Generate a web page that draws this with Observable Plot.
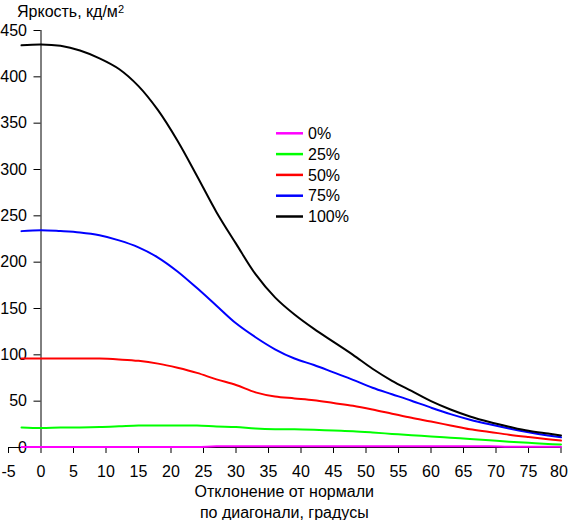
<!DOCTYPE html>
<html>
<head>
<meta charset="utf-8">
<script src="https://cdn.jsdelivr.net/npm/d3@7"></script>
<script src="https://cdn.jsdelivr.net/npm/@observablehq/plot@0.6"></script>
<style>
  body { margin: 0; background: #fff; }
  svg { display: block; }
</style>
</head>
<body>
<div id="chart"></div>
<script>
// ---- data ----
const angles = [-3, 0, 3, 6, 9, 12, 15, 18, 21, 24, 27, 30, 33, 36, 39, 42, 45, 48, 51, 54, 57, 60, 63, 66, 69, 72, 75, 78, 80];
const s0   = [0.5, 0.5, 0.5, 0.5, 0.5, 0.5, 0.5, 0.5, 0.5, 0.5, 1.3, 1.3, 1.3, 1.3, 1.3, 1.3, 1.3, 1.3, 1.3, 1.3, 1.3, 1.3, 1.3, 1.3, 1.3, 0.8, 0.8, 0.8, 0.8];
const s25  = [21.6, 21, 21.5, 21.6, 22, 22.8, 23.7, 23.7, 23.7, 23.7, 22.7, 22, 20.5, 19.8, 19.8, 19.2, 18.3, 17.5, 16.2, 14.7, 13.3, 12, 10.6, 9.2, 7.8, 6.3, 5, 3.9, 3.2];
const s50  = [96, 96, 96, 96, 96, 95, 93.5, 90.5, 86, 80.5, 73.5, 67.5, 59.5, 55, 53, 51, 48, 45, 41, 36.5, 32, 28, 23.8, 19.6, 16.8, 13.8, 11.3, 9, 7.5];
const s75  = [233.5, 234.5, 233.5, 232, 229, 223.5, 216, 205, 190, 172, 153, 134, 119, 106, 96, 89, 81, 73, 64.5, 57.5, 50.5, 43, 36, 30, 25, 20.5, 16.5, 13, 11];
const s100 = [434, 435, 433.5, 428.5, 420, 408.5, 390, 364, 331, 293, 254, 220, 187, 162, 143.5, 128, 114, 100, 85, 72, 61, 50, 41, 33.5, 27.5, 22.5, 18, 15, 13];
const seriesNames  = ["0%", "25%", "50%", "75%", "100%"];
const seriesValues = [s0, s25, s50, s75, s100];
const seriesColors = ["#ff00ff", "#00ff00", "#ff0000", "#0000ff", "#000000"];
const xTicks = [-5, 0, 5, 10, 15, 20, 25, 30, 35, 40, 45, 50, 55, 60, 65, 70, 75, 80];
const yTicks = [0, 50, 100, 150, 200, 250, 300, 350, 400, 450];
const titleText = "Яркость, кд/м";
const titleSup = "2";
const xLabelLines = ["Отклонение от нормали", "по диагонали, градусы"];

// ---- layout ----
const W = 568, H = 520;
const mL = 8, mR = 7.5, mT = 30, mB = 73;
const xDomain = [-5, 80], yDomain = [0, 450];
const fontFamily = "'Liberation Sans', Arial, sans-serif";

const rows = [];
seriesValues.forEach((vals, i) =>
  vals.forEach((v, j) => rows.push({angle: angles[j], value: v, series: seriesNames[i]}))
);

const yAxisDx = (0 - xDomain[0]) / (xDomain[1] - xDomain[0]) * (W - mL - mR);

const plot = Plot.plot({
  width: W,
  height: H,
  marginLeft: mL,
  marginRight: mR,
  marginTop: mT,
  marginBottom: mB,
  style: {fontFamily, fontSize: "16px", background: "#fff", color: "#000"},
  x: {domain: xDomain},
  y: {domain: yDomain},
  color: {domain: seriesNames, range: seriesColors},
  marks: [
    Plot.ruleX([0], {stroke: "#000", strokeWidth: 1}),
    Plot.ruleY([0], {stroke: "#000", strokeWidth: 1}),
    Plot.axisY(yTicks, {anchor: "left", dx: yAxisDx, tickSize: 7, tickPadding: 7, label: null, tickFormat: d => String(d), stroke: "#000", fill: "#000"}),
    Plot.axisX(xTicks, {anchor: "bottom", tickSize: 6, tickPadding: 12, label: null, tickFormat: d => String(d), stroke: "#000", fill: "#000"}),
    Plot.line(rows, {x: "angle", y: "value", z: "series", stroke: "series", strokeWidth: 2, curve: "catmull-rom"})
  ]
});

const svg = d3.select(plot);

// keep the last x tick label inside the picture
const xLabels = svg.selectAll("g[aria-label='x-axis tick label'] text");
if (xLabels.size()) d3.select(xLabels.nodes()[xLabels.size() - 1]).attr("dx", -2);

// title
const t = svg.append("text")
  .attr("x", 17).attr("y", 17)
  .attr("text-anchor", "start")
  .attr("font-family", fontFamily).attr("font-size", 16).attr("fill", "#000")
  .text(titleText);
t.append("tspan").attr("font-size", 11).attr("dy", -4.5).text(titleSup);

// legend
const lg = svg.append("g").attr("font-family", fontFamily).attr("font-size", 16).attr("text-anchor", "start");
seriesNames.forEach((name, i) => {
  const y = 133.3 + i * 20.8;
  lg.append("line").attr("x1", 276).attr("x2", 303).attr("y1", y).attr("y2", y)
    .attr("stroke", seriesColors[i]).attr("stroke-width", 2.5);
  lg.append("text").attr("x", 308).attr("y", y + 5.7).attr("fill", "#000").text(name);
});

// x-axis label
const cx = mL + (W - mL - mR) / 2;
xLabelLines.forEach((line, i) => {
  svg.append("text")
    .attr("x", cx).attr("y", 497 + i * 20.5)
    .attr("text-anchor", "middle")
    .attr("font-family", fontFamily).attr("font-size", 16).attr("fill", "#000")
    .text(line);
});

document.getElementById("chart").appendChild(plot);
</script>
</body>
</html>
